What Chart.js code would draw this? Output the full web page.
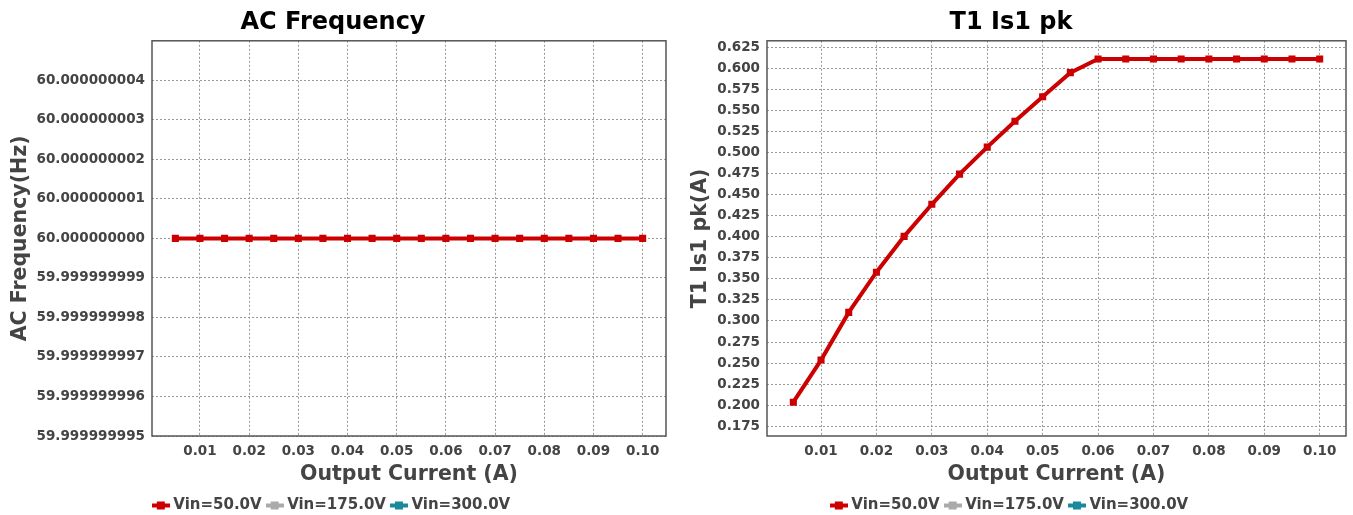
<!DOCTYPE html>
<html><head><meta charset="utf-8">
<script src="https://cdn.jsdelivr.net/npm/chart.js@4.4.0/dist/chart.umd.min.js"></script>
<style>
html,body{margin:0;padding:0;background:#fff;width:1353px;height:515px;overflow:hidden}
canvas{position:absolute;top:0}
#c1{left:0}
#c2{left:676px}
</style></head><body>
<canvas id="c1" width="676" height="523"></canvas>
<canvas id="c2" width="677" height="523"></canvas>
<script>
// ---- data ----
const seriesNames = ['Vin=50.0V', 'Vin=175.0V', 'Vin=300.0V'];
const seriesColors = ['#cc0000', '#aaaaaa', '#1a8a9a'];
const outputCurrent = [0.005, 0.01, 0.015, 0.02, 0.025, 0.03, 0.035, 0.04, 0.045, 0.05,
                       0.055, 0.06, 0.065, 0.07, 0.075, 0.08, 0.085, 0.09, 0.095, 0.1];
const acFreqVin50 = [60.0, 60.0, 60.0, 60.0, 60.0, 60.0, 60.0, 60.0, 60.0, 60.0,
                     60.0, 60.0, 60.0, 60.0, 60.0, 60.0, 60.0, 60.0, 60.0, 60.0];
const is1pkVin50 = [0.2036, 0.2536, 0.3102, 0.3579, 0.4004, 0.4385, 0.4743, 0.5063, 0.5370, 0.5660,
                    0.5947, 0.6110, 0.6110, 0.6110, 0.6110, 0.6110, 0.6110, 0.6110, 0.6110, 0.6110];
const xTickLabels = ['0.01', '0.02', '0.03', '0.04', '0.05', '0.06', '0.07', '0.08', '0.09', '0.10'];
const acFreqTickLabels = ['59.999999995', '59.999999996', '59.999999997', '59.999999998', '59.999999999',
                          '60.000000000', '60.000000001', '60.000000002', '60.000000003', '60.000000004'];
const is1pkTickLabels = ['0.175', '0.200', '0.225', '0.250', '0.275', '0.300', '0.325', '0.350', '0.375', '0.400',
                         '0.425', '0.450', '0.475', '0.500', '0.525', '0.550', '0.575', '0.600', '0.625'];

const FONT = "'DejaVu Sans', sans-serif";
const TXT = '#444444';

function legendMarker(color) {
  const c = document.createElement('canvas');
  c.width = 18; c.height = 10;
  const g = c.getContext('2d');
  g.fillStyle = color;
  g.fillRect(0, 3, 18, 4);
  g.fillRect(5, 1, 8, 8);
  return c;
}

const framePlugin = {
  id: 'frame',
  beforeDatasetsDraw(chart) {
    const {ctx, chartArea: a} = chart;
    ctx.save();
    ctx.strokeStyle = '#555555';
    ctx.lineWidth = 1.5;
    ctx.strokeRect(a.left, a.top, a.right - a.left, a.bottom - a.top);
    ctx.restore();
  }
};

function makeChart(id, o) {
  const datasets = seriesNames.map((name, i) => ({
    label: name,
    data: i === 0 ? outputCurrent.map((x, k) => ({x: x, y: o.values[k]})) : [],
    borderColor: seriesColors[i],
    backgroundColor: seriesColors[i],
    borderWidth: 4,
    pointStyle: 'rect',
    pointRadius: 5,
    pointHoverRadius: 5,
    pointBorderWidth: 0,
    tension: 0
  }));
  const yVals = o.yTicks.map(s => parseFloat(s));
  const xVals = xTickLabels.map(s => parseFloat(s));
  return new Chart(document.getElementById(id), {
    type: 'line',
    data: {datasets},
    plugins: [framePlugin],
    options: {
      responsive: false,
      animation: false,
      layout: {padding: {left: 0, right: o.rightPad, top: 0, bottom: 0}},
      plugins: {
        title: {
          display: true, text: o.title, color: '#000',
          font: {family: FONT, size: 24, weight: 'bold'},
          padding: {top: 8, bottom: 4}
        },
        legend: {
          position: 'bottom',
          labels: {
            usePointStyle: true,
            pointStyleWidth: 10,
            padding: 8,
            color: TXT,
            font: {family: FONT, size: 15, weight: 'bold'},
            generateLabels(chart) {
              return chart.data.datasets.map((ds, i) => ({
                text: ds.label,
                pointStyle: legendMarker(seriesColors[i]),
                fillStyle: seriesColors[i],
                strokeStyle: seriesColors[i],
                lineWidth: 0,
                fontColor: TXT,
                hidden: false,
                datasetIndex: i
              }));
            }
          }
        },
        tooltip: {enabled: false}
      },
      scales: {
        x: {
          type: 'linear',
          min: 0.00025, max: 0.10475,
          afterBuildTicks: ax => { ax.ticks = xVals.map(v => ({value: v})); },
          afterFit: s => { s.height = 54; },
          ticks: {
            color: TXT, font: {family: FONT, size: 13.5, weight: 'bold'}, padding: 7,
            maxRotation: 0, autoSkip: false,
            callback: v => v.toFixed(2)
          },
          grid: {color: '#999999', lineWidth: 1, drawTicks: false},
          border: {display: false, dash: [2, 2]},
          title: {
            display: true, text: 'Output Current (A)', color: TXT,
            font: {family: FONT, size: 20.5, weight: 'bold'}, padding: {top: 0, bottom: 3}
          }
        },
        y: {
          type: 'linear',
          min: o.min, max: o.max,
          afterBuildTicks: ax => { ax.ticks = yVals.map(v => ({value: v})); },
          afterFit: s => { s.width = o.yWidth; },
          ticks: {
            color: TXT, font: {family: FONT, size: 13.5, weight: 'bold'}, padding: 7,
            autoSkip: false,
            callback: v => v.toFixed(o.dec)
          },
          grid: {color: '#999999', lineWidth: 1, drawTicks: false},
          border: {display: false, dash: [2, 2]},
          title: {
            display: true, text: o.yTitle, color: TXT,
            font: {family: FONT, size: 20.5, weight: 'bold'}, padding: {top: o.yTitlePad, bottom: 0}
          }
        }
      }
    }
  });
}

makeChart('c1', {
  title: 'AC Frequency', yTitle: 'AC Frequency(Hz)', values: acFreqVin50,
  yTicks: acFreqTickLabels, min: 59.999999995, max: 60.000000005, dec: 9,
  yWidth: 152, yTitlePad: 8, rightPad: 10
});
makeChart('c2', {
  title: 'T1 Is1 pk', yTitle: 'T1 Is1 pk(A)', values: is1pkVin50,
  yTicks: is1pkTickLabels, min: 0.1635, max: 0.6325, dec: 3,
  yWidth: 91, yTitlePad: 12, rightPad: 7
});
</script>
</body></html>
